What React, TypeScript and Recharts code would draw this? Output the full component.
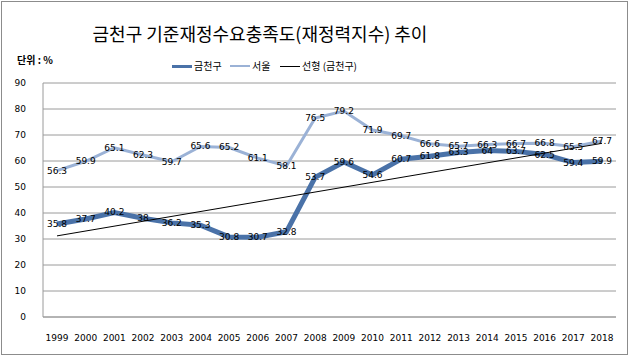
import { LineChart, Line, XAxis, YAxis, CartesianGrid, LabelList } from 'recharts'

const years = [
  '1999', '2000', '2001', '2002', '2003', '2004', '2005', '2006', '2007', '2008',
  '2009', '2010', '2011', '2012', '2013', '2014', '2015', '2016', '2017', '2018',
]
const geumcheon = [
  35.8, 37.7, 40.2, 38, 36.2, 35.3, 30.8, 30.7, 32.8, 53.7,
  59.6, 54.6, 60.7, 61.8, 63.3, 64, 63.7, 62.5, 59.4, 59.9,
]
const seoul = [
  56.3, 59.9, 65.1, 62.3, 59.7, 65.6, 65.2, 61.1, 58.1, 76.5,
  79.2, 71.9, 69.7, 66.6, 65.7, 66.3, 66.7, 66.8, 65.5, 67.7,
]
// linear trend of 금천구, read at the first and last year
const trendEnds = [31.2, 66.8]
const yTicks = [0, 10, 20, 30, 40, 50, 60, 70, 80, 90]

const data = years.map((year, i) => ({
  year,
  geumcheon: geumcheon[i],
  seoul: seoul[i],
  trend: i === 0 ? trendEnds[0] : i === years.length - 1 ? trendEnds[1] : null,
}))

const DARK = '#4a72a8'
const LIGHT = '#9bb2d6'
const TICK_FONT = '"DejaVu Sans", Verdana, sans-serif'
const KR_FONT = '"Noto Sans CJK KR", "Noto Sans", sans-serif'

const renderLabel = (props: any) => {
  const { x, y, value } = props
  return (
    <text
      x={x}
      y={y}
      textAnchor="middle"
      dominantBaseline="central"
      fontSize={9}
      fontFamily={TICK_FONT}
      fill="#000"
    >
      {value}
    </text>
  )
}

const legendItems = [
  { name: '금천구', color: DARK, width: 3, x: 172 },
  { name: '서울', color: LIGHT, width: 2, x: 230 },
  { name: '선형 (금천구)', color: '#000', width: 1, x: 280 },
]

export default function App() {
  return (
    <div
      style={{
        position: 'fixed',
        left: 0,
        top: 0,
        width: 630,
        height: 358,
        background: '#fff',
      }}
    >
      <div
        style={{
          position: 'absolute',
          left: 1,
          top: 1,
          width: 625,
          height: 352,
          border: '1px solid #8c8c8c',
        }}
      />
      <div
        style={{
          position: 'absolute',
          left: 0,
          top: 20,
          width: 520,
          textAlign: 'center',
          fontFamily: KR_FONT,
          fontSize: 18,
          lineHeight: '26px',
          color: '#000',
        }}
      >
        금천구 기준재정수요충족도(재정력지수) 추이
      </div>
      <div
        style={{
          position: 'absolute',
          left: 17,
          top: 53,
          fontFamily: KR_FONT,
          fontSize: 10,
          fontWeight: 'bold',
          lineHeight: '14px',
        }}
      >
        단위 : %
      </div>
      {legendItems.map((it) => (
        <div
          key={it.name}
          style={{
            position: 'absolute',
            left: it.x,
            top: 58,
            display: 'flex',
            alignItems: 'center',
            fontFamily: KR_FONT,
            fontSize: 10,
            lineHeight: '16px',
          }}
        >
          <span
            style={{
              display: 'inline-block',
              width: 20,
              height: it.width,
              background: it.color,
              marginRight: 2,
            }}
          />
          {it.name}
        </div>
      ))}
      <LineChart
        width={630}
        height={358}
        data={data}
        margin={{ top: 83, right: 14, left: 0, bottom: 0 }}
      >
        <CartesianGrid vertical={false} stroke="#9a9a9a" />
        <XAxis
          dataKey="year"
          height={41}
          stroke="#9a9a9a"
          tickLine={false}
          tickMargin={12}
          padding={{ left: 14, right: 14 }}
          tick={{ fontSize: 9, fontFamily: TICK_FONT, fill: '#000' }}
          interval={0}
        />
        <YAxis
          width={43}
          domain={[0, 90]}
          ticks={yTicks}
          stroke="#9a9a9a"
          tickLine={false}
          tickMargin={11}
          tick={{ fontSize: 9, fontFamily: TICK_FONT, fill: '#000' }}
        />
        <Line
          dataKey="seoul"
          stroke={LIGHT}
          strokeWidth={3}
          dot={false}
          isAnimationActive={false}
        >
          <LabelList dataKey="seoul" content={renderLabel} />
        </Line>
        <Line
          dataKey="geumcheon"
          stroke={DARK}
          strokeWidth={5}
          dot={false}
          isAnimationActive={false}
        >
          <LabelList dataKey="geumcheon" content={renderLabel} />
        </Line>
        <Line
          dataKey="trend"
          stroke="#000"
          strokeWidth={1}
          dot={false}
          connectNulls
          isAnimationActive={false}
        />
      </LineChart>
    </div>
  )
}
